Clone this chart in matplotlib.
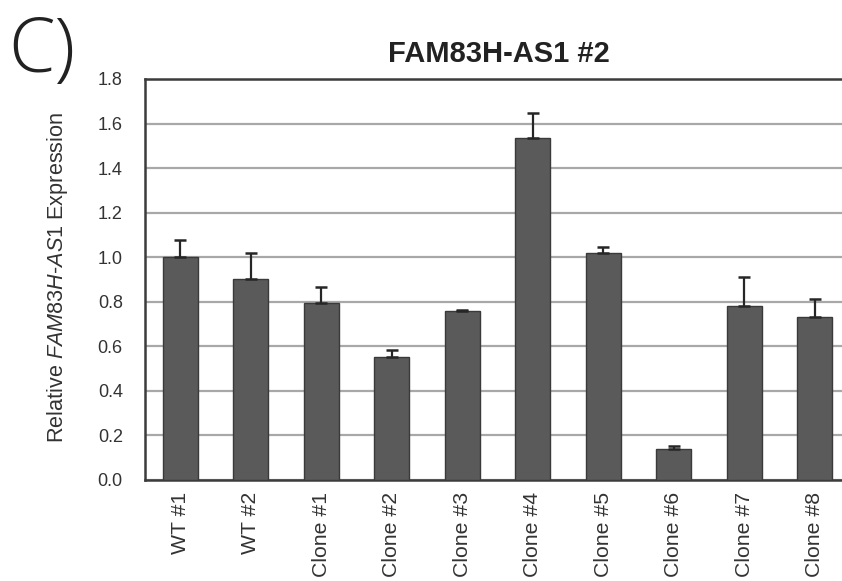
import matplotlib
matplotlib.use("Agg")
import matplotlib.pyplot as plt
import numpy as np

# Relative expression per sample, with upper error values
samples = ["WT #1", "WT #2", "Clone #1", "Clone #2", "Clone #3",
           "Clone #4", "Clone #5", "Clone #6", "Clone #7", "Clone #8"]
expression = [1.00, 0.90, 0.795, 0.55, 0.757, 1.537, 1.018, 0.14, 0.78, 0.733]
error = [0.078, 0.118, 0.072, 0.032, 0.004, 0.112, 0.028, 0.012, 0.131, 0.081]
yticks = [0.0, 0.2, 0.4, 0.6, 0.8, 1.0, 1.2, 1.4, 1.6, 1.8]

plt.rcParams["font.family"] = ["Liberation Sans", "DejaVu Sans"]
plt.rcParams["mathtext.fontset"] = "custom"
plt.rcParams["mathtext.it"] = "Liberation Sans:italic"
plt.rcParams["mathtext.rm"] = "Liberation Sans"

fig = plt.figure(figsize=(8.42, 5.81), dpi=100)
ax = fig.add_axes([145 / 842, 1 - 480 / 581, 705 / 842, 401 / 581])

x = np.arange(len(samples))
ax.bar(x, expression, width=0.49, color="#5a5a5a", edgecolor="#3a3a3a",
       linewidth=1.0, zorder=3)
ax.errorbar(x, expression, yerr=[np.zeros(len(error)), error], fmt="none",
            ecolor="#262626", elinewidth=1.6, capsize=4, capthick=1.8, zorder=4)

ax.set_xlim(-0.5, len(samples) - 0.5)
ax.set_ylim(0, 1.8)
ax.set_yticks(yticks)
ax.set_yticklabels([f"{v:.1f}" for v in yticks], fontsize=13, color="#333333")
ax.set_xticks(x)
ax.set_xticklabels(samples, rotation=90, fontsize=15.3, color="#333333")
ax.tick_params(axis="both", length=0)
ax.tick_params(axis="y", pad=16)
ax.tick_params(axis="x", pad=8.5)

ax.yaxis.grid(True, color="#a8a8a8", linewidth=1.6, zorder=0)
ax.set_axisbelow(True)
for side in ["left", "bottom", "top"]:
    ax.spines[side].set_color("#3c3c3c")
    ax.spines[side].set_linewidth(1.8)
ax.spines["right"].set_visible(False)

ax.set_ylabel(r"Relative $\it{FAM83H}$-$\it{AS1}$ Expression",
              fontsize=15.6, color="#333333")
ax.yaxis.set_label_coords((70 - 145) / 705, 0.505)
ax.set_title("FAM83H-AS1 #2", fontsize=21, fontweight="bold",
             color="#222222", pad=12, x=(498.5 - 145) / 705)

fig.text(8 / 842, 1 - 72 / 581, "C)", fontsize=54, fontweight="light",
         family=["Open Sans", "DejaVu Sans"], color="#222222")

fig.savefig("out.png", dpi=100)
